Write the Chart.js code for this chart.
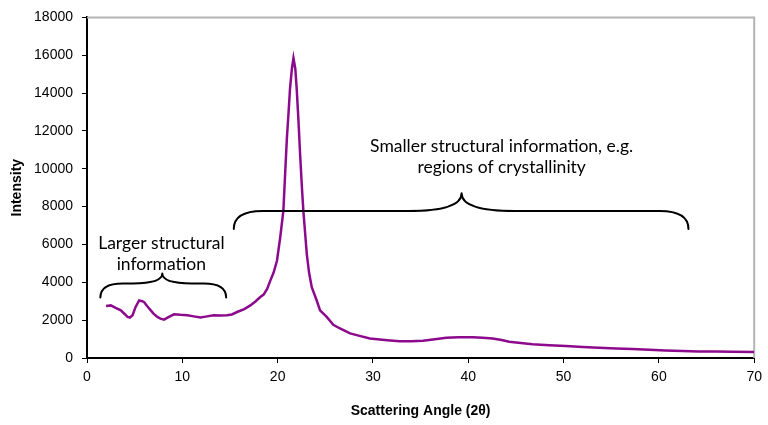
<!DOCTYPE html>
<html>
<head>
<meta charset="utf-8">
<script src="https://cdn.jsdelivr.net/npm/chart.js@4.4.1/dist/chart.umd.min.js"></script>
<style>
  html, body { margin: 0; padding: 0; background: #ffffff; }
  #wrap { width: 768px; height: 425px; position: relative; }
</style>
</head>
<body>
<div id="wrap"><canvas id="c" width="768" height="425"></canvas></div>
<script>
// Scattering angle (2θ, degrees) and intensity
const angles = [2.0, 2.5, 3.0, 3.55, 4.0, 4.25, 4.5, 4.78, 5.1, 5.47, 5.8, 6.0, 6.3, 6.69, 7.0, 7.39, 7.7, 8.08, 8.5, 9.12,
  9.8, 10.52, 11.2, 11.91, 12.6, 13.3, 14.0, 14.7, 15.2, 15.75, 16.5, 17.14, 17.7, 18.18, 18.53, 18.9, 19.23, 19.57, 19.93, 20.27,
  20.6, 20.8, 20.97, 21.15, 21.3, 21.5, 21.66, 21.85, 22.0, 22.2, 22.36, 22.55, 22.7, 22.9, 23.06, 23.3, 23.58, 24.1, 24.45, 25.15,
  25.84, 26.54, 27.6, 28.29, 29.68, 31.5, 32.8, 34.0, 35.25, 36.5, 37.69, 39.0, 40.47, 41.5, 42.56, 43.5, 44.3, 45.5, 46.74, 48.5,
  50.23, 52.0, 53.7, 55.5, 57.2, 59.0, 60.68, 62.5, 64.16, 66.0, 67.64, 70.0];
const intensity = [2750, 2780, 2650, 2520, 2300, 2170, 2130, 2260, 2700, 3040, 3000, 2950, 2750, 2520, 2330, 2170, 2080, 2030, 2150, 2310,
  2280, 2260, 2200, 2140, 2200, 2260, 2240, 2260, 2300, 2430, 2580, 2780, 3000, 3220, 3350, 3650, 4090, 4500, 5140, 6370,
  7770, 9870, 11610, 13000, 14240, 15300, 15850, 15300, 14240, 12400, 10740, 9000, 7770, 6500, 5490, 4500, 3740, 3040, 2520, 2170,
  1750, 1560, 1300, 1210, 1030, 940, 890, 880, 910, 990, 1070, 1090, 1090, 1070, 1030, 950, 860, 790, 730, 680,
  630, 580, 540, 500, 470, 430, 400, 370, 350, 340, 330, 320];

const xTicks = [0, 10, 20, 30, 40, 50, 60, 70];
const yTicks = [0, 2000, 4000, 6000, 8000, 10000, 12000, 14000, 16000, 18000];

// Annotations (braces): [start, end, tip] in degrees; [endY, lineY, tipY] in intensity
const braceSmallX = [1.4, 14.6, 7.9];
const braceSmallY = [3200, 3940, 4460];
const braceLargeX = [15.4, 63.1, 39.3];
const braceLargeY = [6820, 7770, 8710];
const labelSmall = ["Larger structural", "information"];
const labelSmallPos = [7.8, 6035, 4930];
const labelLarge = ["Smaller structural information, e.g.", "regions of crystallinity"];
const labelLargePos = [43.5, 11180, 10080];

const points = angles.map((a, i) => ({ x: a, y: intensity[i] }));

function drawBrace(ctx, xs, ys, x1v, x2v, tipv, yEv, yLv, yTv) {
  const x1 = xs.getPixelForValue(x1v), x2 = xs.getPixelForValue(x2v), xt = xs.getPixelForValue(tipv);
  const yE = ys.getPixelForValue(yEv), yL = ys.getPixelForValue(yLv), yT = ys.getPixelForValue(yTv);
  const r = Math.max(8, (yE - yL) * 1.6);
  const rt = Math.max(8, (yL - yT) * 3);
  ctx.beginPath();
  ctx.moveTo(x1, yE);
  ctx.quadraticCurveTo(x1, yL, x1 + r, yL);
  ctx.lineTo(xt - rt, yL);
  ctx.quadraticCurveTo(xt, yL, xt, yT);
  ctx.quadraticCurveTo(xt, yL, xt + rt, yL);
  ctx.lineTo(x2 - r, yL);
  ctx.quadraticCurveTo(x2, yL, x2, yE);
  ctx.stroke();
}

const annotPlugin = {
  id: 'annot',
  beforeDatasetsDraw(chart) {
    const { ctx, chartArea: a } = chart;
    ctx.save();
    ctx.strokeStyle = '#b4b4b4';
    ctx.lineWidth = 2;
    ctx.beginPath();
    ctx.moveTo(a.left, a.top);
    ctx.lineTo(a.right, a.top);
    ctx.lineTo(a.right, a.bottom);
    ctx.stroke();
    ctx.restore();
  },
  afterDatasetsDraw(chart) {
    const { ctx } = chart;
    const xs = chart.scales.x, ys = chart.scales.y;
    ctx.save();
    ctx.strokeStyle = '#000';
    ctx.lineWidth = 2;
    ctx.lineCap = 'round';
    ctx.lineJoin = 'round';
    drawBrace(ctx, xs, ys, braceSmallX[0], braceSmallX[1], braceSmallX[2], braceSmallY[0], braceSmallY[1], braceSmallY[2]);
    drawBrace(ctx, xs, ys, braceLargeX[0], braceLargeX[1], braceLargeX[2], braceLargeY[0], braceLargeY[1], braceLargeY[2]);
    ctx.fillStyle = '#000';
    ctx.font = '17.5px Lato, "Open Sans", sans-serif';
    ctx.textAlign = 'center';
    ctx.textBaseline = 'middle';
    ctx.fillText(labelSmall[0], xs.getPixelForValue(labelSmallPos[0]), ys.getPixelForValue(labelSmallPos[1]));
    ctx.fillText(labelSmall[1], xs.getPixelForValue(labelSmallPos[0]), ys.getPixelForValue(labelSmallPos[2]));
    ctx.fillText(labelLarge[0], xs.getPixelForValue(labelLargePos[0]), ys.getPixelForValue(labelLargePos[1]));
    ctx.fillText(labelLarge[1], xs.getPixelForValue(labelLargePos[0]), ys.getPixelForValue(labelLargePos[2]));
    ctx.restore();
  }
};

new Chart(document.getElementById('c'), {
  type: 'line',
  data: {
    datasets: [{
      data: points,
      borderColor: '#8c0a8c',
      borderWidth: 2.5,
      pointRadius: 0,
      tension: 0,
      fill: false
    }]
  },
  options: {
    responsive: false,
    animation: false,
    events: [],
    layout: { padding: { top: 15, right: 10, left: 0, bottom: 0 } },
    plugins: { legend: { display: false }, tooltip: { enabled: false } },
    scales: {
      x: {
        type: 'linear',
        min: 0, max: 70,
        afterBuildTicks: s => { s.ticks = xTicks.map(v => ({ value: v })); },
        afterFit: s => { s.height = 67; },
        ticks: { color: '#000', font: { family: '"Liberation Sans", Arial, sans-serif', size: 14 }, padding: 6, maxRotation: 0,
          callback: v => String(v) },
        grid: { drawOnChartArea: false, tickLength: 5, color: '#000', lineWidth: 1 },
        border: { color: '#000', width: 2 },
        title: { display: true, text: 'Scattering Angle (2θ)', color: '#000',
          font: { family: '"Liberation Sans", Arial, sans-serif', size: 14, weight: 'bold' }, padding: { bottom: 5 } }
      },
      y: {
        min: 0, max: 18000,
        afterBuildTicks: s => { s.ticks = yTicks.map(v => ({ value: v })); },
        afterFit: s => { s.width = 87; },
        ticks: { color: '#000', font: { family: '"Liberation Sans", Arial, sans-serif', size: 14 }, padding: 9,
          callback: v => String(v) },
        grid: { drawOnChartArea: false, tickLength: 5, color: '#000', lineWidth: 1 },
        border: { color: '#000', width: 2 },
        title: { display: true, text: 'Intensity', color: '#000',
          font: { family: '"Liberation Sans", Arial, sans-serif', size: 14, weight: 'bold' }, padding: { top: 9 } }
      }
    }
  },
  plugins: [annotPlugin]
});
</script>
</body>
</html>
